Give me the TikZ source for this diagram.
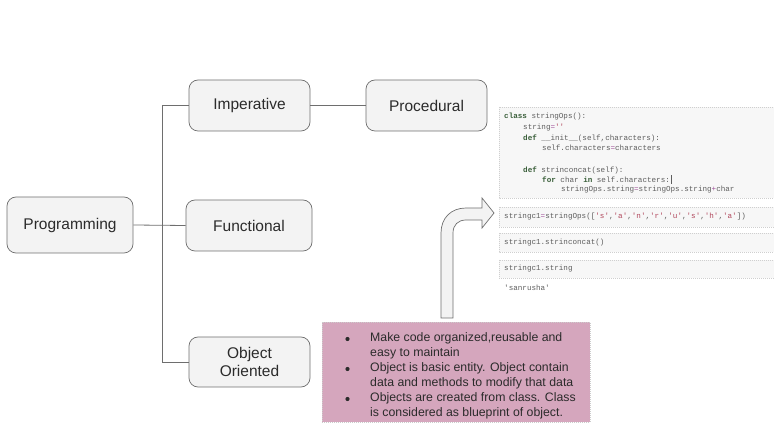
\documentclass[tikz,border=0pt]{standalone}
\usepackage{fontspec}
\setmainfont{Liberation Sans}
\setmonofont{Liberation Mono}
\definecolor{boxfill}{HTML}{F3F3F3}
\definecolor{boxline}{HTML}{6E6E6E}
\definecolor{txt}{HTML}{2B2B2B}
\definecolor{pinkbox}{HTML}{D5A6BD}
\definecolor{cellfill}{HTML}{F7F7F7}
\definecolor{cellline}{HTML}{CFCFCF}
\definecolor{codetxt}{HTML}{5E5E5E}
\definecolor{kw}{HTML}{3A5F3A}
\definecolor{strc}{HTML}{B0455A}
\definecolor{opc}{HTML}{A0509A}
\newcommand{\kwd}[1]{{\bfseries\color{kw}#1}}
\newcommand{\strq}[1]{{\color{strc}#1}}
\newcommand{\opq}[1]{{\color{opc}#1}}
\begin{document}
\begin{tikzpicture}[x=1pt,y=-1pt,
  topic/.style={draw=boxline, line width=0.7pt, fill=boxfill, rounded corners=9pt,
    font=\fontsize{15.5}{18}\selectfont, text=txt, align=center, inner sep=0pt},
  link/.style={draw=boxline, line width=0.8pt},
  cell/.style={fill=cellfill, draw=cellline, line width=0.5pt, dash pattern=on 1pt off 1pt},
  code/.style={anchor=west, inner sep=0pt, font=\fontsize{7.6}{9}\ttfamily, text=codetxt},
  bul/.style={anchor=north west, inner sep=0pt, align=left, text=txt,
    font=\fontsize{12.3}{14.8}\selectfont},
  bulletdot/.style={circle, fill=txt, draw=none, inner sep=0pt, minimum size=4.2pt}
]
\useasboundingbox (0,0) rectangle (774,435);

% mind-map boxes
\node[topic, minimum width=126pt, minimum height=56pt] (prog) at (70,225) {Programming};
\node[topic, minimum width=121pt, minimum height=51pt] (imp) at (249.5,105.5) {Imperative};
\node[topic, minimum width=121pt, minimum height=51pt] (proc) at (426.5,105.5) {Procedural};
\node[topic, minimum width=126pt, minimum height=51pt] (func) at (249,225.5) {Functional};
\node[topic, minimum width=121pt, minimum height=50pt] (oo) at (249.5,362) {Object\\Oriented};

\coordinate (t1) at (162,105.5);
\coordinate (t2) at (162,362);
\draw[link] (prog.east) -- (func.west);
\draw[link] (imp.west) -- (t1) -- (t2) -- (oo.west);
\draw[link] (imp.east) -- (proc.west);

% notebook cells
\draw[cell] (499,107) rectangle (774,198);
\draw[cell] (499,207) rectangle (774,227);
\draw[cell] (499,233) rectangle (774,252);
\draw[cell] (499,260) rectangle (774,278);

\node[code] (c1) at (504,117) {\kwd{class} stringOps():};
\node[code] (c2) at (523,128) {string\opq{=}\strq{''}};
\node[code] (c3) at (523,138) {\kwd{def} \_\_init\_\_(self,characters):};
\node[code] (c4) at (542,148) {self.characters\opq{=}characters};
\node[code] (c5) at (523,170) {\kwd{def} strinconcat(self):};
\node[code] (c6) at (542,180) {\kwd{for} char \kwd{in} self.characters:};
\draw[codetxt, line width=0.6pt] (c6.east) ++(1.5,-4.5) -- ++(0,9);
\node[code] (c7) at (561,190) {stringOps.string\opq{=}stringOps.string\opq{+}char};
\node[code] (c8) at (504,217) {stringc1\opq{=}stringOps([\strq{'s'},\strq{'a'},\strq{'n'},\strq{'r'},\strq{'u'},\strq{'s'},\strq{'h'},\strq{'a'}])};
\node[code] (c9) at (504,242.5) {stringc1.strinconcat()};
\node[code] (c10) at (504,269) {stringc1.string};
\node[code] (c11) at (504,288) {'sanrusha'};

% curved arrow
\draw[fill=boxfill, draw=boxline, line width=0.7pt, line join=miter]
  (441,318) -- (441,233) .. controls (441,218) and (451,208) .. (466,208)
  -- (482,208) -- (482,198) -- (494,213) -- (482,228) -- (482,220)
  -- (466,220) .. controls (458,220) and (453,225) .. (453,233)
  -- (453,318) -- cycle;

% pink note
\draw[fill=pinkbox, draw=black!20, line width=0.5pt, dash pattern=on 1pt off 1pt] (322,322) rectangle (590,422);
\node[bulletdot] (b1) at (347.5,339) {};
\node[bulletdot] (b2) at (347.5,369) {};
\node[bulletdot] (b3) at (347.5,399) {};
\node[bul] (l1) at (370,332.5) {Make code organized,reusable and\\easy to maintain};
\node[bul] (l2) at (370,362.5) {Object is basic entity. Object contain\\data and methods to modify that data};
\node[bul] (l3) at (370,392.5) {Objects are created from class. Class\\is considered as blueprint of object.};
\end{tikzpicture}
\end{document}
